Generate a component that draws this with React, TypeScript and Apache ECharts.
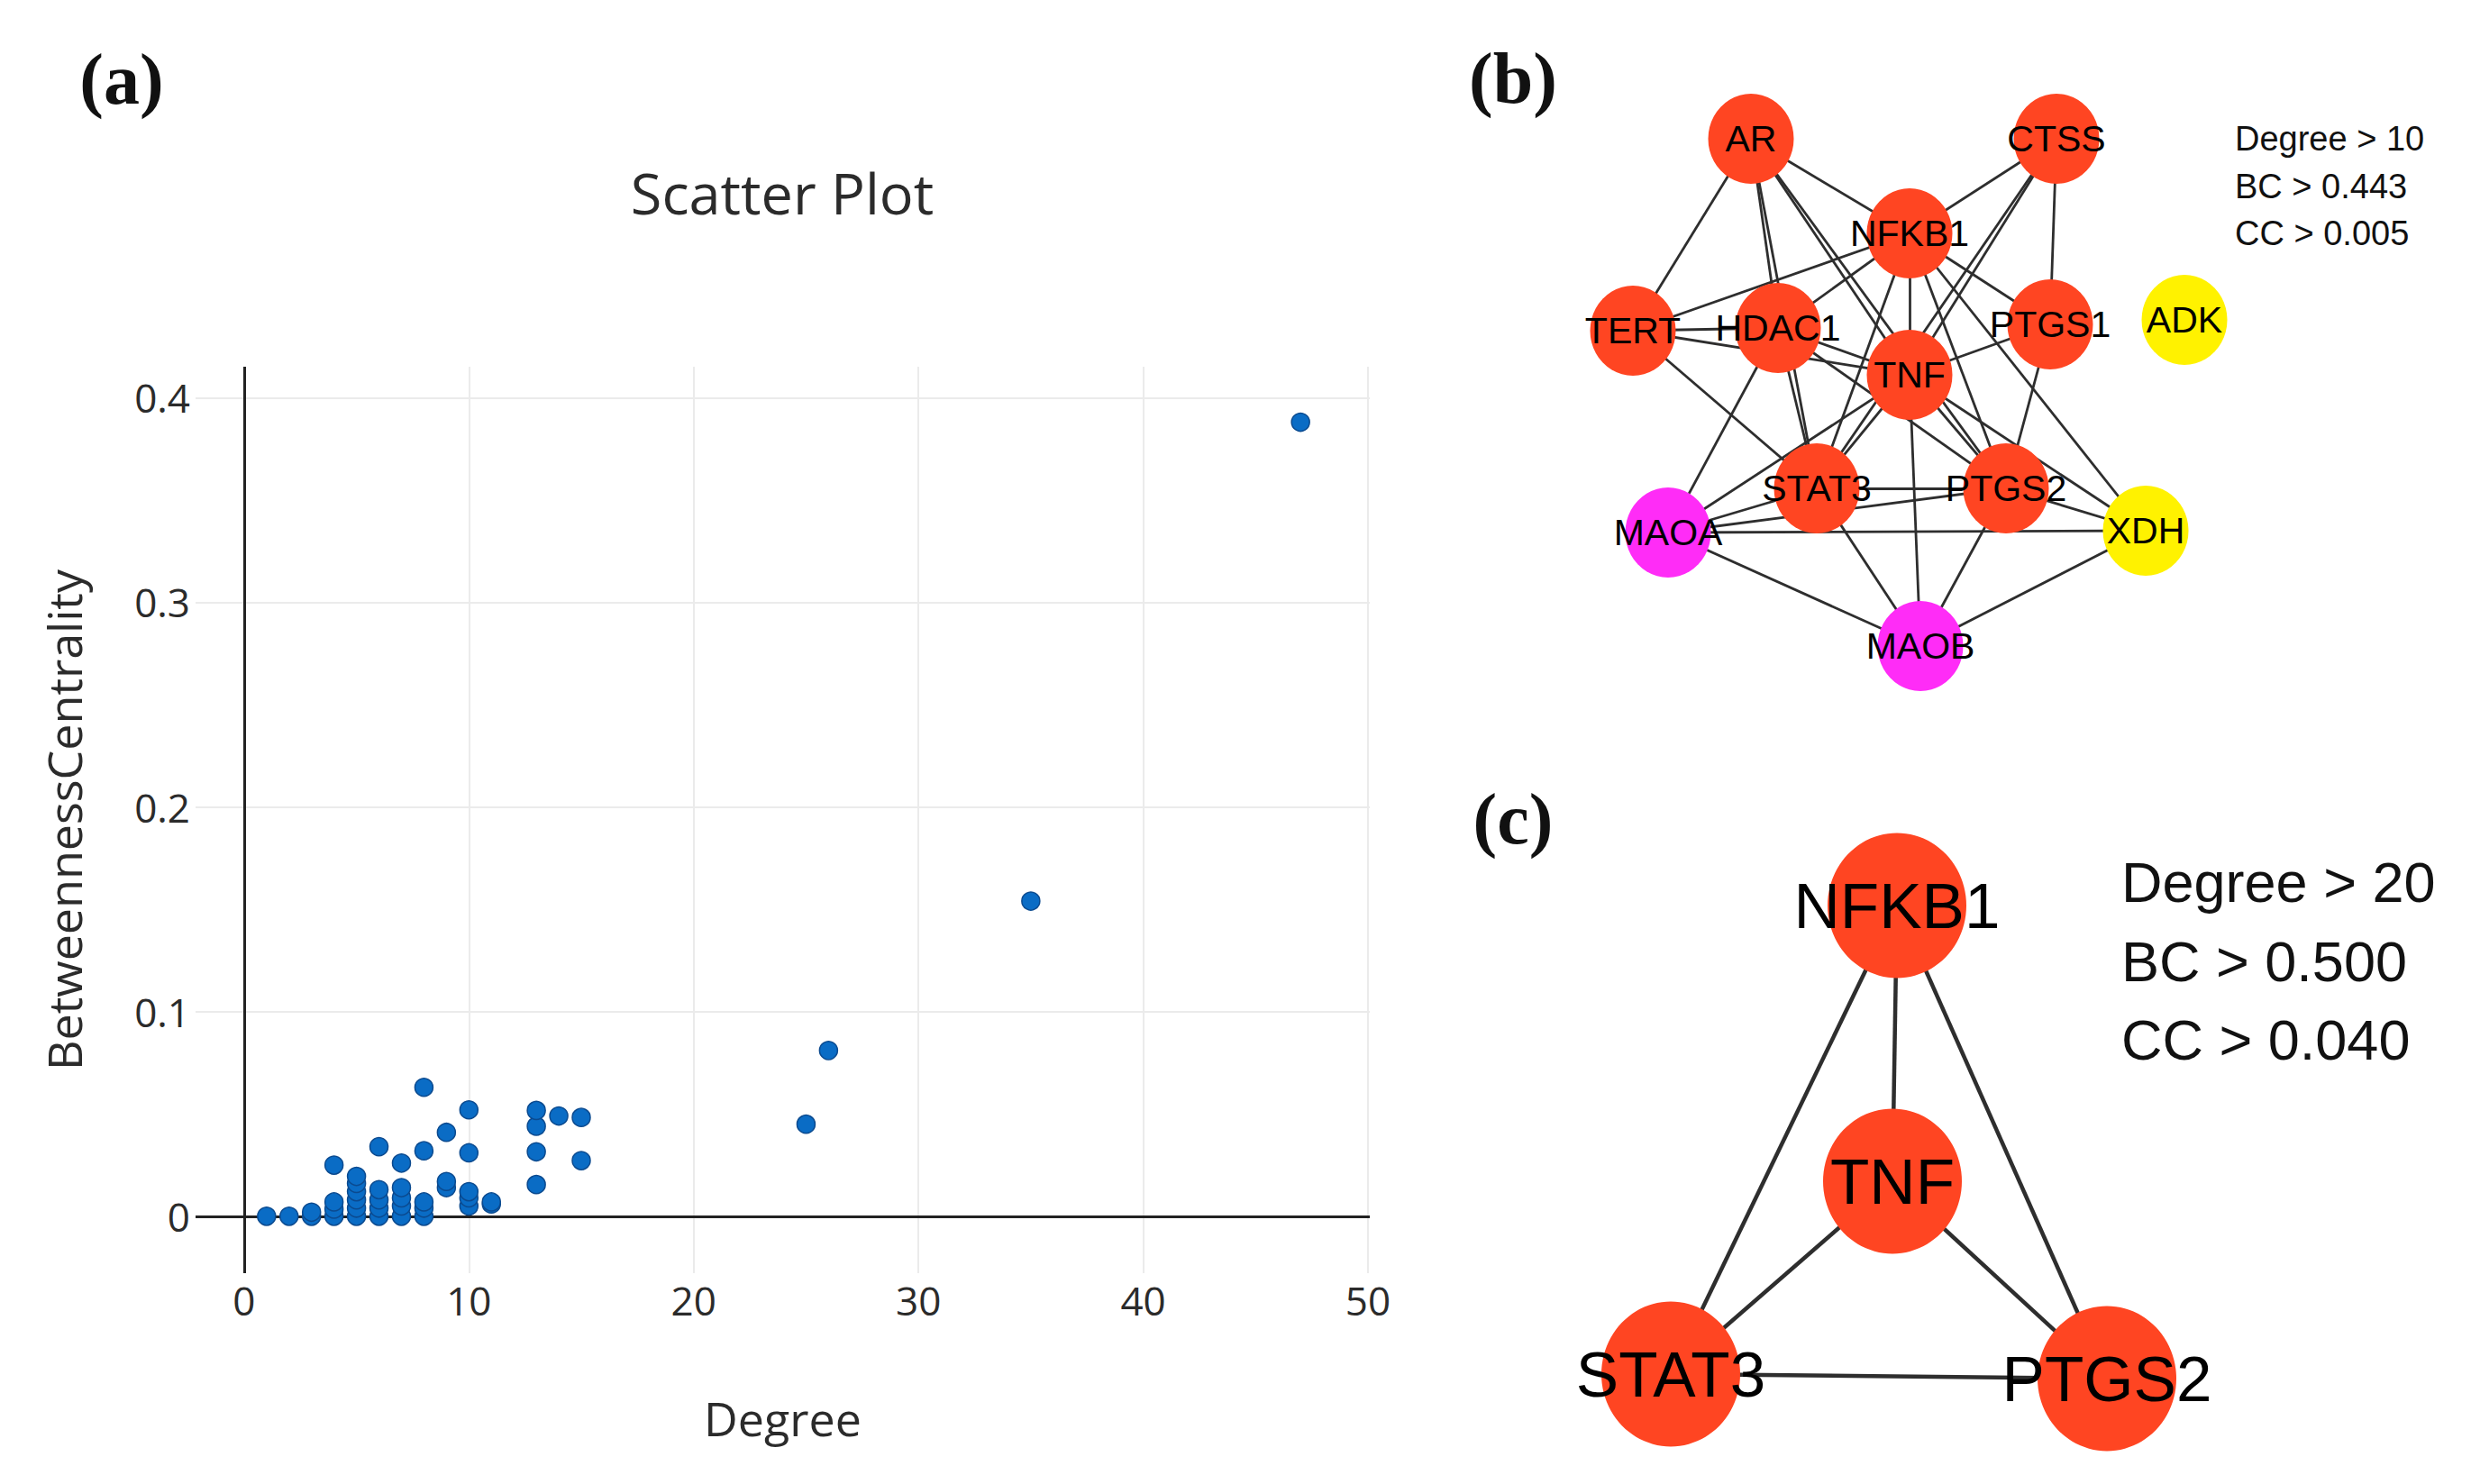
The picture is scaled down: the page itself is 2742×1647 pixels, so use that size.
import React, { useEffect, useRef } from "react";
import * as echarts from "echarts";

// ---------- Panel (a): scatter data ----------
const degree = [
  1, 2, 3, 3,
  4, 4, 4, 4,
  5, 5, 5, 5, 5, 5,
  6, 6, 6, 6, 6,
  7, 7, 7, 7, 7,
  8, 8, 8, 8, 8,
  9, 9, 9,
  10, 10, 10, 10, 10,
  11, 11,
  13, 13, 13, 13,
  14,
  15, 15,
  25, 26, 35, 47,
];
const betweenness = [
  0, 0, 0, 0.002,
  0, 0.0035, 0.007, 0.025,
  0, 0.004, 0.008, 0.012, 0.016, 0.0195,
  0, 0.004, 0.008, 0.013, 0.034,
  0, 0.005, 0.009, 0.014, 0.026,
  0, 0.004, 0.007, 0.032, 0.063,
  0.014, 0.017, 0.041,
  0.005, 0.009, 0.012, 0.031, 0.052,
  0.006, 0.007,
  0.0155, 0.0315, 0.044, 0.0517,
  0.049,
  0.0272, 0.0483,
  0.045, 0.081, 0.154, 0.388,
];
const xTicks = [0, 10, 20, 30, 40, 50];
const yTicks = [0, 0.1, 0.2, 0.3, 0.4];

// ---------- Panel (b): network ----------
const nodesB = ["AR", "CTSS", "NFKB1", "TERT", "HDAC1", "PTGS1", "ADK", "TNF", "STAT3", "PTGS2", "MAOA", "XDH", "MAOB"];
const nodesBX = [243, 582, 419, 112, 273, 575, 724, 419, 316, 526, 151, 681, 431];
const nodesBY = [154, 154, 259, 367, 364, 360, 355, 416, 542, 542, 591, 589, 717];
const nodesBGroup = ["hub", "hub", "hub", "hub", "hub", "hub", "y", "hub", "hub", "hub", "m", "y", "m"];
const linksB = [
  ["AR", "TERT"], ["AR", "HDAC1"], ["AR", "STAT3"], ["AR", "NFKB1"], ["AR", "TNF"], ["AR", "PTGS2"],
  ["CTSS", "NFKB1"], ["CTSS", "TNF"], ["CTSS", "STAT3"], ["CTSS", "PTGS1"],
  ["NFKB1", "TERT"], ["NFKB1", "HDAC1"], ["NFKB1", "TNF"], ["NFKB1", "STAT3"], ["NFKB1", "PTGS2"],
  ["NFKB1", "PTGS1"], ["NFKB1", "XDH"],
  ["TERT", "HDAC1"], ["TERT", "TNF"], ["TERT", "STAT3"],
  ["HDAC1", "TNF"], ["HDAC1", "STAT3"], ["HDAC1", "PTGS2"], ["HDAC1", "MAOA"],
  ["PTGS1", "TNF"], ["PTGS1", "PTGS2"],
  ["TNF", "STAT3"], ["TNF", "PTGS2"], ["TNF", "MAOB"], ["TNF", "MAOA"], ["TNF", "XDH"],
  ["STAT3", "PTGS2"], ["STAT3", "MAOA"], ["STAT3", "MAOB"],
  ["PTGS2", "MAOA"], ["PTGS2", "XDH"], ["PTGS2", "MAOB"],
  ["MAOA", "XDH"], ["MAOA", "MAOB"], ["XDH", "MAOB"],
];
const legendB = ["Degree > 10", "BC > 0.443", "CC > 0.005"];

// ---------- Panel (c): core network ----------
const nodesC = ["NFKB1", "TNF", "STAT3", "PTGS2"];
const nodesCX = [405, 400, 154, 638];
const nodesCY = [155, 461, 675, 680];
const linksC = [
  ["NFKB1", "TNF"], ["NFKB1", "STAT3"], ["NFKB1", "PTGS2"],
  ["TNF", "STAT3"], ["TNF", "PTGS2"], ["STAT3", "PTGS2"],
];
const legendC = ["Degree > 20", "BC > 0.500", "CC > 0.040"];

const groupColor: Record<string, string> = { hub: "#ff4522", y: "#fff200", m: "#ff2cf7" };

export default function App() {
  const ref = useRef<HTMLDivElement>(null);

  useEffect(() => {
    if (!ref.current) return;
    const chart = echarts.init(ref.current, null, { renderer: "svg" });
    const sans = "Open Sans";
    const arial = "Liberation Sans";

    const option: any = {
      animation: false,
      backgroundColor: "#ffffff",
      grid: [
        { left: 217, top: 407, width: 1303, height: 1006 },
        { left: 1700, top: 0, width: 1000, height: 850 },
        { left: 1700, top: 850, width: 1000, height: 797 },
      ],
      xAxis: [
        {
          gridIndex: 0,
          type: "value",
          min: -2.16,
          max: 50.08,
          name: "Degree",
          nameLocation: "middle",
          nameGap: 134,
          nameTextStyle: { fontFamily: sans, fontSize: 52, color: "#2b2b2b" },
          axisLine: { show: false },
          axisTick: { show: false },
          splitLine: { show: false },
          axisLabel: {
            customValues: xTicks,
            fontFamily: sans,
            fontSize: 44,
            color: "#2b2b2b",
            margin: 8,
          },
        },
        { gridIndex: 1, type: "value", min: 0, max: 1000, show: false },
        { gridIndex: 2, type: "value", min: 0, max: 1000, show: false },
      ],
      yAxis: [
        {
          gridIndex: 0,
          type: "value",
          min: -0.0278,
          max: 0.4151,
          name: "BetweennessCentrality",
          nameLocation: "middle",
          nameGap: 121,
          nameTextStyle: { fontFamily: sans, fontSize: 52, color: "#2b2b2b" },
          axisLine: { show: false },
          axisTick: { show: false },
          splitLine: { show: false },
          axisLabel: {
            customValues: yTicks,
            fontFamily: sans,
            fontSize: 44,
            color: "#2b2b2b",
            margin: 6,
            formatter: (v: number) => (v === 0 ? "0" : String(Math.round(v * 10) / 10)),
          },
        },
        { gridIndex: 1, type: "value", min: 0, max: 850, inverse: true, show: false },
        { gridIndex: 2, type: "value", min: 0, max: 797, inverse: true, show: false },
      ],
      series: [
        {
          name: "grid",
          type: "scatter",
          xAxisIndex: 0,
          yAxisIndex: 0,
          data: [],
          silent: true,
          z: 1,
          markLine: {
            z: 1,
            silent: true,
            symbol: "none",
            animation: false,
            label: { show: false },
            lineStyle: { color: "#ebebeb", width: 2, type: "solid" },
            data: [
              ...xTicks.filter((v) => v !== 0).map((v) => ({ xAxis: v })),
              ...yTicks.filter((v) => v !== 0).map((v) => ({ yAxis: v })),
            ],
          },
        },
        {
          name: "zero",
          type: "scatter",
          xAxisIndex: 0,
          yAxisIndex: 0,
          data: [],
          silent: true,
          z: 2,
          markLine: {
            z: 2,
            silent: true,
            symbol: "none",
            animation: false,
            label: { show: false },
            lineStyle: { color: "#222222", width: 3, type: "solid" },
            data: [{ xAxis: 0 }, { yAxis: 0 }],
          },
        },
        {
          name: "BetweennessCentrality",
          type: "scatter",
          xAxisIndex: 0,
          yAxisIndex: 0,
          z: 5,
          symbol: "circle",
          symbolSize: 20,
          itemStyle: { color: "#0a6cc5", borderColor: "#0b4a8f", borderWidth: 1.5, opacity: 1 },
          data: degree.map((d, i) => [d, betweenness[i]]),
        },
        {
          name: "networkB",
          type: "graph",
          coordinateSystem: "cartesian2d",
          xAxisIndex: 1,
          yAxisIndex: 1,
          silent: true,
          symbol: "circle",
          symbolSize: [95, 100],
          edgeSymbol: ["none", "none"],
          label: { show: true, position: "inside", color: "#000", fontFamily: arial, fontSize: 41, formatter: "{b}" },
          lineStyle: { color: "#2e2e2e", width: 2.8, opacity: 1, curveness: 0 },
          itemStyle: { borderWidth: 0 },
          emphasis: { disabled: true },
          data: nodesB.map((n, i) => ({
            name: n,
            value: [nodesBX[i], nodesBY[i]],
            itemStyle: { color: groupColor[nodesBGroup[i]] },
          })),
          links: linksB.map(([s, t]) => ({ source: s, target: t })),
        },
        {
          name: "networkC",
          type: "graph",
          coordinateSystem: "cartesian2d",
          xAxisIndex: 2,
          yAxisIndex: 2,
          silent: true,
          symbol: "circle",
          symbolSize: [154, 161],
          edgeSymbol: ["none", "none"],
          label: { show: true, position: "inside", color: "#000", fontFamily: arial, fontSize: 71, formatter: "{b}" },
          lineStyle: { color: "#2e2e2e", width: 4.5, opacity: 1, curveness: 0 },
          itemStyle: { color: groupColor.hub, borderWidth: 0 },
          emphasis: { disabled: true },
          data: nodesC.map((n, i) => ({ name: n, value: [nodesCX[i], nodesCY[i]] })),
          links: linksC.map(([s, t]) => ({ source: s, target: t })),
        },
      ],
      graphic: [
        {
          type: "text",
          x: 135,
          y: 88,
          style: { text: "(a)", font: 'bold 80px "Liberation Serif"', fill: "#111", textAlign: "center", textVerticalAlign: "middle" },
        },
        {
          type: "text",
          x: 1679,
          y: 87,
          style: { text: "(b)", font: 'bold 80px "Liberation Serif"', fill: "#111", textAlign: "center", textVerticalAlign: "middle" },
        },
        {
          type: "text",
          x: 1679,
          y: 909,
          style: { text: "(c)", font: 'bold 80px "Liberation Serif"', fill: "#111", textAlign: "center", textVerticalAlign: "middle" },
        },
        {
          type: "text",
          x: 868,
          y: 213,
          style: { text: "Scatter Plot", font: '63px "Open Sans"', fill: "#2b2b2b", textAlign: "center", textVerticalAlign: "middle" },
        },
        ...legendB.map((t, i) => ({
          type: "text",
          x: 2480,
          y: 154 + i * 52.5,
          style: { text: t, font: '38px "Liberation Sans"', fill: "#111", textAlign: "left", textVerticalAlign: "middle" },
        })),
        ...legendC.map((t, i) => ({
          type: "text",
          x: 2354,
          y: 979 + i * 87.5,
          style: { text: t, font: '63px "Liberation Sans"', fill: "#111", textAlign: "left", textVerticalAlign: "middle" },
        })),
      ],
    };

    chart.setOption(option);
    return () => chart.dispose();
  }, []);

  return (
    <div
      ref={ref}
      style={{ position: "fixed", left: 0, top: 0, width: 2742, height: 1647, background: "#fff" }}
    />
  );
}
